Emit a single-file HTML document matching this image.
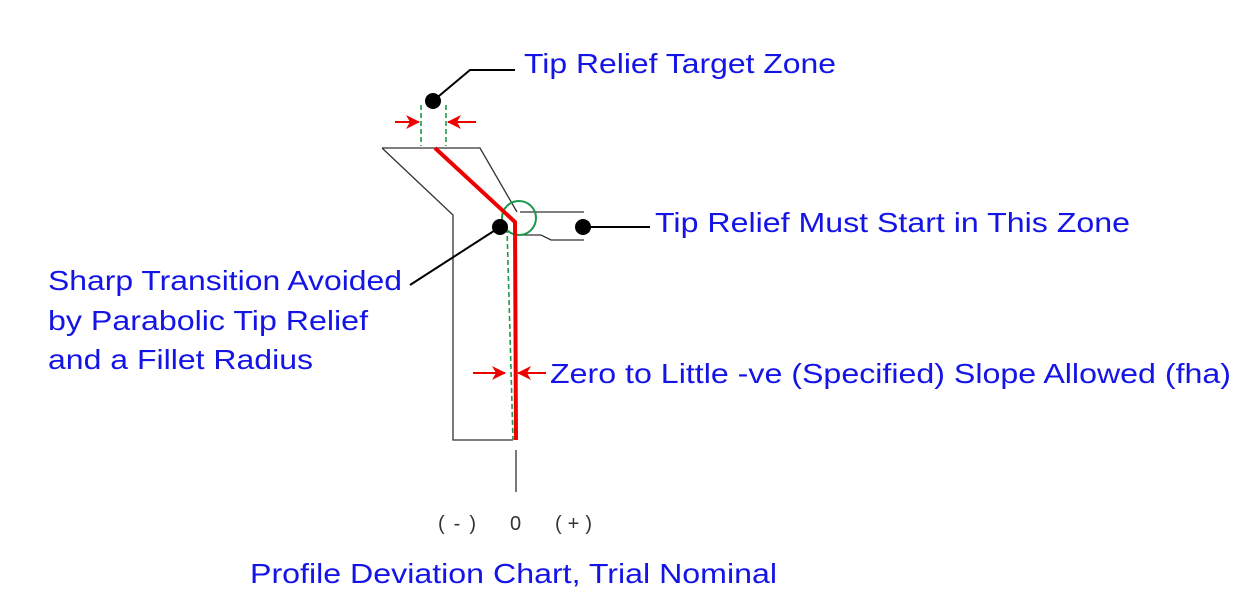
<!DOCTYPE html>
<html><head><style>
body{margin:0;background:#fff;}
svg{display:block;}
.t{font-family:"Liberation Sans",sans-serif;fill:#1414e6;font-size:28px;}
.s{font-family:"Liberation Sans",sans-serif;fill:#333;font-size:20px;}
</style></head><body>
<svg width="1251" height="613" viewBox="0 0 1251 613">
<defs>
<marker id="ar" markerWidth="14" markerHeight="14" refX="13" refY="7" orient="auto" markerUnits="userSpaceOnUse"><path d="M0,0 L14,7 L0,14 L4,7 z" fill="#e00"/></marker>
</defs>
<g fill="none" stroke="#333" stroke-width="1.3">
<polyline points="382,148 480,148 517,212"/>
<polyline points="382,148 453,215 453,440 513,440"/>
<polyline points="520,212 584,212"/>
<polyline points="520,235 541,235 551,240 584,240"/>
<line x1="516" y1="450" x2="516" y2="492"/>
</g>
<g stroke="#1a9a4a" stroke-width="1.6" stroke-dasharray="5,3" fill="none">
<line x1="421" y1="105" x2="421" y2="146"/>
<line x1="446" y1="105" x2="446" y2="146"/>
<line x1="507" y1="228" x2="513" y2="440"/>
</g>
<circle cx="519" cy="218" r="17" fill="none" stroke="#1a9a4a" stroke-width="2"/>
<polyline points="435,148 515,222 516,440" fill="none" stroke="#e00" stroke-width="4"/>
<g stroke="#e00" stroke-width="2">
<line x1="395" y1="122" x2="419" y2="122" marker-end="url(#ar)"/>
<line x1="476" y1="122" x2="448" y2="122" marker-end="url(#ar)"/>
<line x1="473" y1="373" x2="505" y2="373" marker-end="url(#ar)"/>
<line x1="546" y1="373" x2="518" y2="373" marker-end="url(#ar)"/>
</g>
<g stroke="#000" stroke-width="2" fill="none">
<polyline points="433,101 470,70 515,70"/>
<line x1="583" y1="227" x2="650" y2="227"/>
<line x1="500" y1="227" x2="410" y2="285"/>
</g>
<g fill="#000">
<circle cx="433" cy="101" r="8"/>
<circle cx="583" cy="227" r="8"/>
<circle cx="500" cy="227" r="8"/>
</g>
<text class="t" x="524" y="73" textLength="312" lengthAdjust="spacingAndGlyphs">Tip Relief Target Zone</text>
<text class="t" x="655" y="232" textLength="475" lengthAdjust="spacingAndGlyphs">Tip Relief Must Start in This Zone</text>
<text class="t" x="48" y="290" textLength="354" lengthAdjust="spacingAndGlyphs">Sharp Transition Avoided</text>
<text class="t" x="48" y="330" textLength="320" lengthAdjust="spacingAndGlyphs">by Parabolic Tip Relief</text>
<text class="t" x="48" y="369" textLength="265" lengthAdjust="spacingAndGlyphs">and a Fillet Radius</text>
<text class="t" x="550" y="383" textLength="681" lengthAdjust="spacingAndGlyphs">Zero to Little -ve (Specified) Slope Allowed (fha)</text>
<text class="t" x="250" y="583" textLength="527" lengthAdjust="spacingAndGlyphs">Profile Deviation Chart, Trial Nominal</text>
<text class="s" x="438" y="530" textLength="38" lengthAdjust="spacing">( - )</text>
<text class="s" x="510" y="530">0</text>
<text class="s" x="555" y="530" textLength="37" lengthAdjust="spacing">( + )</text>
</svg>
</body></html>
